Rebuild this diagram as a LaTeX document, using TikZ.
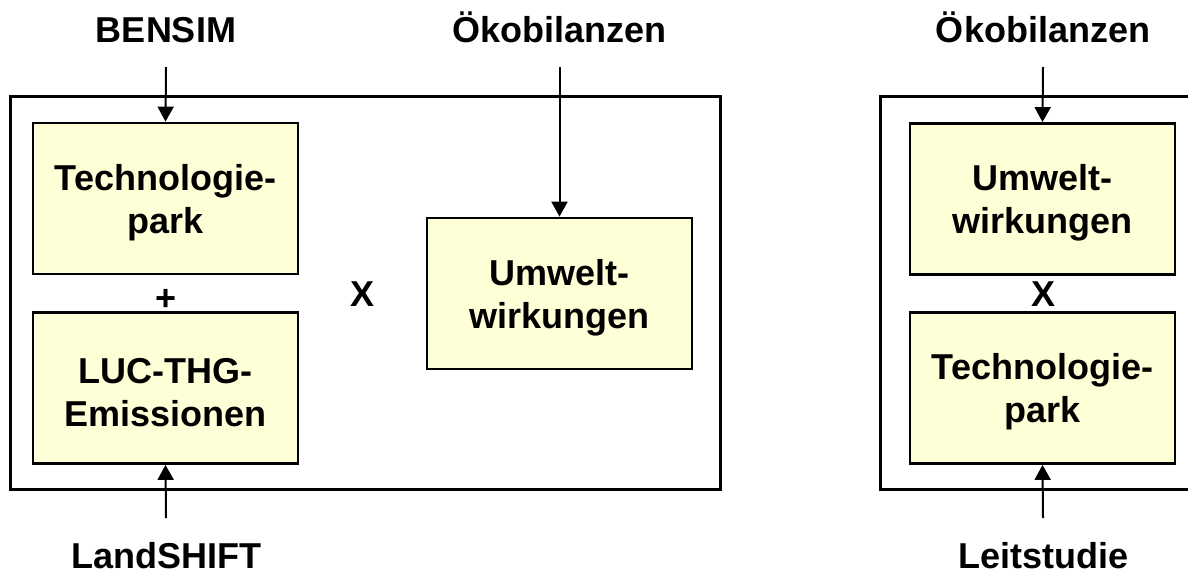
\documentclass[tikz,border=0pt]{standalone}
\usepackage{fontspec}
\setmainfont{Liberation Sans}
\usetikzlibrary{arrows.meta}
\definecolor{boxfill}{RGB}{255,255,215}
% strut that lowers two-line box texts a little
\newcommand{\boxlift}{\rule{0pt}{34pt}}
\tikzset{
  frame/.style={draw=black, line width=3pt},
  block/.style={draw=black, fill=boxfill, line width=2.8pt, minimum width=265pt,
    minimum height=151pt, align=center, inner sep=0pt,
    font=\fontsize{36}{43}\selectfont\bfseries},
  label/.style={inner sep=0pt, anchor=base, font=\fontsize{36}{43}\selectfont\bfseries},
  op/.style={inner sep=0pt, font=\fontsize{36}{43}\selectfont\bfseries},
  feed/.style={line width=2pt, -{Triangle[width=16pt,length=15pt]}}
}
\begin{document}
\begin{tikzpicture}[x=1pt,y=-1pt]
  \useasboundingbox (0,0) rectangle (1188,574);
  \clip (0,0) rectangle (1188,574);

  % left panel: sum of technology park and LUC emissions, times impacts
  \draw[frame] (10,96) rectangle (720,489);
  \node[block] (tp) at (165.5,198.5) {\boxlift Technologie-\\park};
  \node[block] (luc) at (165.5,388) {\boxlift LUC-THG-\\Emissionen};
  \node[block] (uw) at (559.5,293.5) {\boxlift Umwelt-\\wirkungen};
  \node[op] (plus) at (166,300) {+};
  \node[op] (times) at (363,294) {X};

  \node[label] (bensim) at (166,42) {BENSIM};
  \node[label] (oeko1) at (559.5,42) {Ökobilanzen};
  \node[label] (land) at (166,568) {LandSHIFT};
  \coordinate (bensimEnd) at (166,67);
  \coordinate (oeko1End) at (559.5,67);
  \coordinate (landEnd) at (166,518);
  \draw[feed] (bensimEnd) -- (tp.north);
  \draw[feed] (oeko1End) -- (uw.north);
  \draw[feed] (landEnd) -- (luc.south);

  % right panel: impacts times technology park
  \draw[frame] (880,96) rectangle (1220,489);
  \node[block] (uw2) at (1042.5,199) {\boxlift Umwelt-\\wirkungen};
  \node[block] (tp2) at (1042.5,388) {\boxlift Technologie-\\park};
  \node[op] (times2) at (1043,294.5) {X};

  \node[label] (oeko2) at (1043,42) {Ökobilanzen};
  \node[label] (leit) at (1043,568) {Leitstudie};
  \coordinate (oeko2End) at (1043,67);
  \coordinate (leitEnd) at (1043,518);
  \draw[feed] (oeko2End) -- (uw2.north);
  \draw[feed] (leitEnd) -- (tp2.south);
\end{tikzpicture}
\end{document}
